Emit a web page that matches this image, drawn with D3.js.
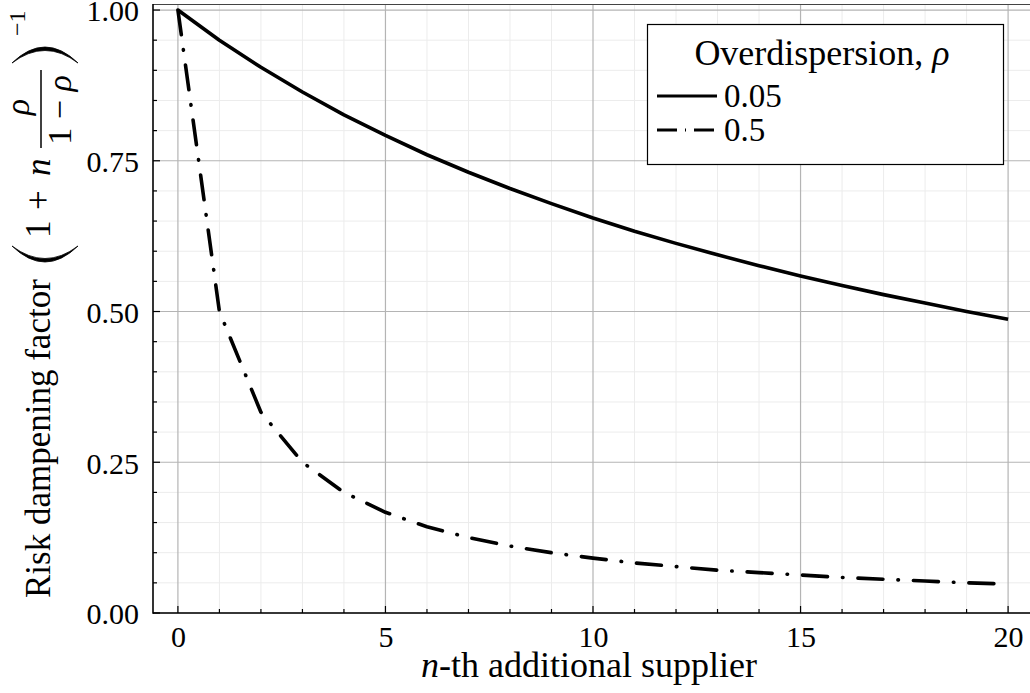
<!DOCTYPE html>
<html>
<head>
<meta charset="utf-8">
<script src="https://cdn.jsdelivr.net/npm/d3@7/dist/d3.min.js"></script>
<style>
  body { margin: 0; background: #fff; }
  svg { display: block; }
</style>
</head>
<body>
<div class="chart"></div>
<script>
// n-th additional supplier
var nValues = [0, 1, 2, 3, 4, 5, 6, 7, 8, 9, 10, 11, 12, 13, 14, 15, 16, 17, 18, 19, 20];
// risk dampening factor, rho = 0.05
var damp005 = [1.000, 0.950, 0.905, 0.864, 0.826, 0.792, 0.760, 0.731, 0.704, 0.679, 0.655,
               0.633, 0.613, 0.594, 0.576, 0.559, 0.543, 0.528, 0.514, 0.500, 0.487];
// risk dampening factor, rho = 0.5
var damp05 = [1.000, 0.500, 0.333, 0.250, 0.200, 0.167, 0.143, 0.125, 0.111, 0.100, 0.091,
              0.083, 0.077, 0.071, 0.067, 0.063, 0.059, 0.056, 0.053, 0.050, 0.048];
var seriesLabels = ["0.05", "0.5"];
var xTicks = [0, 5, 10, 15, 20];
var yTicks = [0, 0.25, 0.5, 0.75, 1.0];
var yTickLabels = ["0.00", "0.25", "0.50", "0.75", "1.00"];

var serif = "'Liberation Serif'";
var svgWidth = 1030, svgHeight = 693;
// plot area edges ("top" is a window property, so keep them in an object)
var margin = { left: 153, right: 1033, top: 4, bottom: 613 };

// helper: serif text of a given size
function txt(sel, size) {
  return sel.style("font-family", serif).style("font-size", size + "px").attr("fill", "#000");
}

var svg = d3.select(".chart").append("svg")
    .attr("width", svgWidth)
    .attr("height", svgHeight);

var x = d3.scaleLinear().domain([-0.6, 20.6]).range([margin.left, margin.right]);
var y = d3.scaleLinear().domain([0, 1.01]).range([margin.bottom, margin.top]);

// minor grid
svg.append("g").selectAll("line")
    .data(d3.range(0, 21).filter(function(d) { return d % 5 !== 0; }))
    .enter().append("line")
    .attr("x1", function(d) { return x(d); }).attr("x2", function(d) { return x(d); })
    .attr("y1", margin.top).attr("y2", margin.bottom)
    .attr("stroke", "#ececec").attr("stroke-width", 1);
svg.append("g").selectAll("line")
    .data(d3.range(1, 21).filter(function(i) { return i % 5 !== 0; }))
    .enter().append("line")
    .attr("x1", margin.left).attr("x2", svgWidth)
    .attr("y1", function(d) { return y(d * 0.05); }).attr("y2", function(d) { return y(d * 0.05); })
    .attr("stroke", "#ececec").attr("stroke-width", 1);

// major grid
svg.append("g").selectAll("line")
    .data(xTicks)
    .enter().append("line")
    .attr("x1", function(d) { return x(d); }).attr("x2", function(d) { return x(d); })
    .attr("y1", margin.top).attr("y2", margin.bottom)
    .attr("stroke", "#b4b4b4").attr("stroke-width", 1.2);
svg.append("g").selectAll("line")
    .data(yTicks)
    .enter().append("line")
    .attr("x1", margin.left).attr("x2", svgWidth)
    .attr("y1", function(d) { return y(d); }).attr("y2", function(d) { return y(d); })
    .attr("stroke", "#b4b4b4").attr("stroke-width", 1.2);

// frame top
svg.append("line")
    .attr("x1", margin.left).attr("x2", svgWidth).attr("y1", margin.top + 0.5).attr("y2", margin.top + 0.5)
    .attr("stroke", "#444").attr("stroke-width", 1.2);

// axes
var bottomAxis = d3.axisBottom(x).tickValues(xTicks).tickSize(0).tickPadding(0).tickFormat(d3.format("d"));
var leftAxis = d3.axisLeft(y).tickValues(yTicks).tickSize(0).tickPadding(0)
    .tickFormat(function(d, i) { return yTickLabels[i]; });

var gx = svg.append("g").attr("transform", "translate(0," + margin.bottom + ")").call(bottomAxis);
gx.select(".domain").remove();
txt(gx.selectAll("text").attr("y", 34).attr("dy", null), 30);

var gy = svg.append("g").attr("transform", "translate(" + margin.left + ",0)").call(leftAxis);
gy.select(".domain").remove();
txt(gy.selectAll("text").attr("x", -14).attr("dy", "0.36em"), 30);

// ticks (inward)
svg.append("g").selectAll("line")
    .data(d3.range(0, 21))
    .enter().append("line")
    .attr("x1", function(d) { return x(d); }).attr("x2", function(d) { return x(d); })
    .attr("y1", margin.bottom).attr("y2", function(d) { return d % 5 === 0 ? margin.bottom - 7 : margin.bottom - 4; })
    .attr("stroke", "#000").attr("stroke-width", 1.2);
svg.append("g").selectAll("line")
    .data(d3.range(0, 21))
    .enter().append("line")
    .attr("x1", margin.left).attr("x2", function(d) { return d % 5 === 0 ? margin.left + 7 : margin.left + 4; })
    .attr("y1", function(d) { return y(d * 0.05); }).attr("y2", function(d) { return y(d * 0.05); })
    .attr("stroke", "#000").attr("stroke-width", 1.2);

svg.append("line").attr("x1", margin.left).attr("x2", margin.left)
    .attr("y1", margin.top).attr("y2", margin.bottom + 0.8)
    .attr("stroke", "#000").attr("stroke-width", 1.6);
svg.append("line").attr("x1", margin.left).attr("x2", svgWidth)
    .attr("y1", margin.bottom).attr("y2", margin.bottom)
    .attr("stroke", "#000").attr("stroke-width", 1.6);

// lines
var line = d3.line()
    .x(function(d) { return x(d[0]); })
    .y(function(d) { return y(d[1]); });

var series = [
  { values: damp005, dash: null },
  { values: damp05, dash: "25 15 0.5 15" }
];

svg.append("g").selectAll("path")
    .data(series)
    .enter().append("path")
    .attr("d", function(s) { return line(nValues.map(function(n, i) { return [n, s.values[i]]; })); })
    .attr("fill", "none")
    .attr("stroke", "#000")
    .attr("stroke-width", 3.6)
    .attr("stroke-linecap", function(s) { return s.dash ? "round" : "butt"; })
    .attr("stroke-linejoin", "round")
    .attr("stroke-dasharray", function(s) { return s.dash; });

// legend
var legend = svg.append("g");
legend.append("rect")
    .attr("x", 647.5).attr("y", 24.5).attr("width", 356).attr("height", 140)
    .attr("fill", "#fff").attr("stroke", "#000").attr("stroke-width", 1.2);
var title = txt(legend.append("text"), 36)
    .attr("x", 822).attr("y", 65).attr("text-anchor", "middle");
title.append("tspan").text("Overdispersion, ");
title.append("tspan").style("font-style", "italic").text("ρ");

var legendDash = [null, "20 8 1 8"];
seriesLabels.forEach(function(lab, i) {
  var yy = 96 + i * 34;
  legend.append("line")
      .attr("x1", 657).attr("x2", 717).attr("y1", yy).attr("y2", yy)
      .attr("stroke", "#000").attr("stroke-width", 3)
      .attr("stroke-dasharray", legendDash[i]);
  txt(legend.append("text"), 33)
      .attr("x", 724).attr("y", yy + 11)
      .text(lab);
});

// x label
var xl = txt(svg.append("text"), 36)
    .attr("x", (margin.left + margin.right) / 2 - 4).attr("y", 677)
    .attr("text-anchor", "middle");
xl.append("tspan").style("font-style", "italic").text("n");
xl.append("tspan").text("-th additional supplier");

// y label (rotated, baseline at screen x = 50)
var yl = svg.append("g").attr("transform", "translate(50,0) rotate(-90)");
txt(yl.append("text"), 35).attr("x", -598).attr("y", 0).text("Risk dampening factor");
// big left paren
yl.append("path")
    .attr("d", "M-246,-38 Q-278,-5 -246,28 Q-271,-5 -246,-38 Z")
    .attr("fill", "#000").attr("stroke", "#000").attr("stroke-width", 0.8);
txt(yl.append("text"), 35).attr("x", -238).attr("y", 0).text("1");
txt(yl.append("text"), 35).attr("x", -210).attr("y", 0).text("+");
txt(yl.append("text"), 35).attr("x", -176).attr("y", 0)
    .style("font-style", "italic").text("n");
// fraction
txt(yl.append("text"), 34).attr("x", -107).attr("y", -21).attr("text-anchor", "middle")
    .style("font-style", "italic").text("ρ");
yl.append("line").attr("x1", -148).attr("x2", -70).attr("y1", -9).attr("y2", -9)
    .attr("stroke", "#000").attr("stroke-width", 1.5);
var den = txt(yl.append("text"), 34).attr("x", -110).attr("y", 21).attr("text-anchor", "middle");
den.append("tspan").text("1 − ");
den.append("tspan").style("font-style", "italic").text("ρ");
// big right paren
yl.append("path")
    .attr("d", "M-63,-38 Q-31,-5 -63,28 Q-38,-5 -63,-38 Z")
    .attr("fill", "#000").attr("stroke", "#000").attr("stroke-width", 0.8);
txt(yl.append("text"), 24).attr("x", -36).attr("y", -25).text("−1");
</script>
</body>
</html>
